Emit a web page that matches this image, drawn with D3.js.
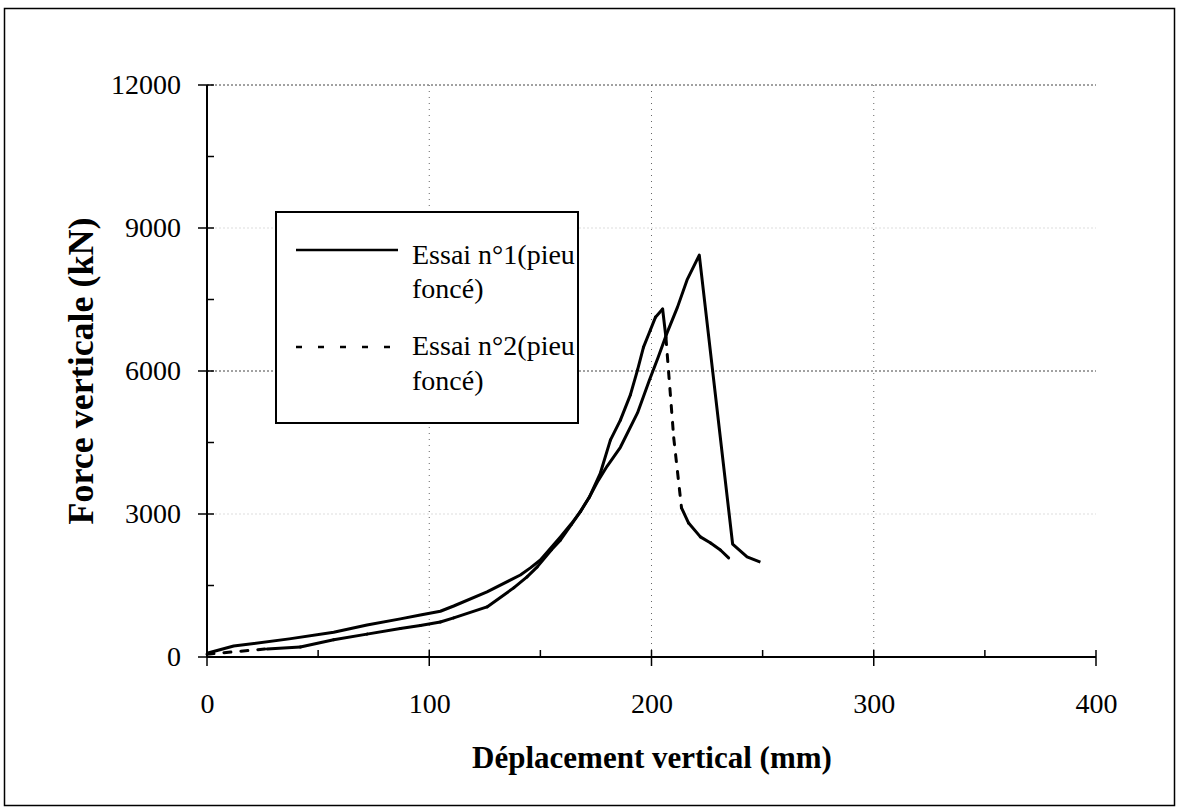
<!DOCTYPE html>
<html>
<head>
<meta charset="utf-8">
<script src="https://cdn.jsdelivr.net/npm/d3@7"></script>
<style>
  html, body { margin: 0; padding: 0; background: #fff; }
  svg { display: block; }
  text { font-family: "Liberation Serif", "Times New Roman", serif; fill: #000; }
</style>
</head>
<body>
<svg id="chart" width="1180" height="812"></svg>
<script>
// ---- data ----
const seriesNames = ["Essai n°1(pieu foncé)", "Essai n°2(pieu foncé)"];
const xTicks = [0, 100, 200, 300, 400];
const yTicks = [0, 3000, 6000, 9000, 12000];

const s1x = [0, 12, 37, 57, 72, 87, 96, 105, 111, 126, 141, 145.5, 150, 159, 164, 168, 172, 176, 180, 186, 193.7, 199, 203, 207, 211.7, 216, 220, 221.5, 236.5, 243, 249];
const s1y = [80, 230, 380, 520, 670, 800, 880, 960, 1070, 1365, 1720, 1870, 2035, 2520, 2800, 3050, 3350, 3700, 4000, 4400, 5120, 5800, 6290, 6800, 7340, 7910, 8290, 8430, 2370, 2100, 1990];

const s2x = [0, 27, 42, 57, 72, 87, 96, 105, 111, 126, 138, 144, 148.6, 155, 159, 164, 168, 172, 177, 181.5, 186, 190.5, 193.7, 196.4, 199.5, 201.8, 205, 206.5, 210, 213.5, 216.7, 222, 226.6, 231, 234.7];
const s2y = [60, 170, 210, 360, 480, 600, 660, 735, 820, 1050, 1450, 1680, 1890, 2250, 2450, 2780, 3050, 3350, 3860, 4550, 4970, 5500, 6020, 6500, 6860, 7130, 7300, 6700, 4600, 3130, 2810, 2520, 2390, 2245, 2080];

(function () {
// ---- layout ----
const svg = d3.select("#chart");
const pL = 207, pR = 1096, pT = 85, pB = 657;
const x = d3.scaleLinear().domain([0, 400]).range([pL, pR]);
const y = d3.scaleLinear().domain([0, 12000]).range([pB, pT]);

// outer frame
svg.append("rect").attr("x", 4.5).attr("y", 8.5).attr("width", 1170).attr("height", 797)
  .attr("fill", "none").attr("stroke", "#000").attr("stroke-width", 1.5);

// gridlines
const g = svg.append("g");
yTicks.filter(d => d > 0).forEach(d => {
  const faint = (d === 3000 || d === 9000);
  g.append("line").attr("x1", pL).attr("x2", pR).attr("y1", y(d)).attr("y2", y(d))
    .attr("stroke", faint ? "#dddddd" : "#444").attr("stroke-width", 1)
    .attr("stroke-dasharray", "2,2");
});
xTicks.filter(d => d > 0 && d < 400).forEach(d => {
  g.append("line").attr("x1", x(d)).attr("x2", x(d)).attr("y1", pT).attr("y2", pB)
    .attr("stroke", "#666").attr("stroke-width", 1)
    .attr("stroke-dasharray", "1,5");
});

// axes
const yAxis = d3.axisLeft(y).tickValues(yTicks).tickSize(0).tickFormat(d3.format("d"));
const xAxis = d3.axisBottom(x).tickValues(xTicks).tickSize(0).tickFormat(d3.format("d"));

const ya = svg.append("g").attr("transform", `translate(${pL},0)`).call(yAxis);
ya.select(".domain").remove();
ya.selectAll("text").attr("x", -26).attr("font-size", 28).attr("font-family", "Liberation Serif");

const xa = svg.append("g").attr("transform", `translate(0,${pB})`).call(xAxis);
xa.select(".domain").remove();
xa.selectAll("text").attr("y", 36).attr("font-size", 28).attr("font-family", "Liberation Serif");

// axis lines
svg.append("line").attr("x1", pL).attr("x2", pL).attr("y1", pT).attr("y2", pB)
  .attr("stroke", "#000").attr("stroke-width", 2);
svg.append("line").attr("x1", pL).attr("x2", pR).attr("y1", pB).attr("y2", pB)
  .attr("stroke", "#000").attr("stroke-width", 2);

// major ticks (crossing)
yTicks.forEach(d => {
  svg.append("line").attr("x1", pL - 9).attr("x2", pL + 7).attr("y1", y(d)).attr("y2", y(d))
    .attr("stroke", "#000").attr("stroke-width", 1.5);
});
xTicks.forEach(d => {
  svg.append("line").attr("x1", x(d)).attr("x2", x(d)).attr("y1", pB - 7).attr("y2", pB + 9)
    .attr("stroke", "#000").attr("stroke-width", 1.5);
});
// minor ticks (inside)
d3.range(1500, 12000, 3000).forEach(d => {
  svg.append("line").attr("x1", pL).attr("x2", pL + 7).attr("y1", y(d)).attr("y2", y(d))
    .attr("stroke", "#000").attr("stroke-width", 1.5);
});
d3.range(50, 400, 100).forEach(d => {
  svg.append("line").attr("x1", x(d)).attr("x2", x(d)).attr("y1", pB - 7).attr("y2", pB)
    .attr("stroke", "#000").attr("stroke-width", 1.5);
});

// axis titles
svg.append("text").attr("x", 652).attr("y", 768).attr("text-anchor", "middle")
  .attr("font-size", 31).attr("font-weight", "bold").text("Déplacement vertical (mm)");
svg.append("text").attr("transform", "translate(93,371) rotate(-90)").attr("text-anchor", "middle")
  .attr("font-size", 36).attr("font-weight", "bold").text("Force verticale (kN)");

// series
const pts1 = s1x.map((v, i) => [x(v), y(s1y[i])]);
const pts2 = s2x.map((v, i) => [x(v), y(s2y[i])]);

svg.append("path").attr("d", d3.line()(pts1)).attr("fill", "none")
  .attr("stroke", "#000").attr("stroke-width", 3).attr("stroke-linejoin", "round");

// series 2: dash pattern restarts on each segment (long segments appear dashed)
d3.pairs(pts2).forEach(([a, b]) => {
  const len = Math.hypot(b[0] - a[0], b[1] - a[1]);
  svg.append("line").attr("x1", a[0]).attr("y1", a[1]).attr("x2", b[0]).attr("y2", b[1])
    .attr("stroke", "#000").attr("stroke-width", 3).attr("stroke-linecap", "round")
    .attr("stroke-dasharray", len > 40 ? "7,10" : null);
});

// legend
const lg = svg.append("g");
lg.append("rect").attr("x", 276).attr("y", 212).attr("width", 302).attr("height", 211)
  .attr("fill", "#fff").attr("stroke", "#000").attr("stroke-width", 2);
lg.append("line").attr("x1", 296).attr("x2", 398).attr("y1", 250).attr("y2", 250)
  .attr("stroke", "#000").attr("stroke-width", 2.5);
lg.append("line").attr("x1", 296).attr("x2", 398).attr("y1", 347).attr("y2", 347)
  .attr("stroke", "#000").attr("stroke-width", 2.5).attr("stroke-dasharray", "6,16");
const lt = [["Essai n°1(pieu", 264], ["foncé)", 298], ["Essai n°2(pieu", 355], ["foncé)", 390]];
lt.forEach(([t, yy]) => {
  lg.append("text").attr("x", 412).attr("y", yy).attr("font-size", 28).text(t);
});
})();
</script>
</body>
</html>
